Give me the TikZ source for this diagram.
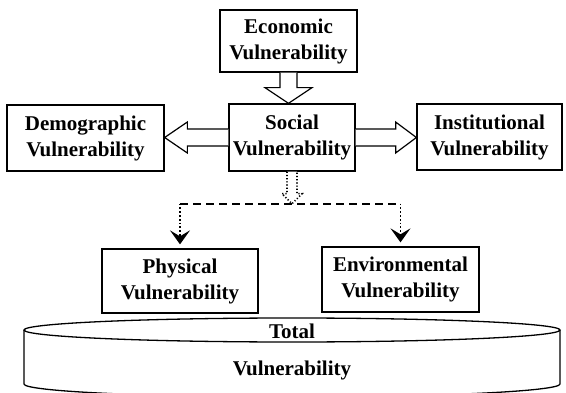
\documentclass[tikz,border=0pt]{standalone}
\usepackage{fontspec}
\setmainfont{Liberation Serif}
\usetikzlibrary{arrows.meta,calc}
\begin{document}
\begin{tikzpicture}[x=1pt, y=1pt, line width=1.3pt,
	box/.style={draw, align=center, inner sep=0pt, font=\bfseries\fontsize{21}{26}\selectfont},
	txt/.style={inner sep=0pt, font=\bfseries\fontsize{21}{26}\selectfont},
	hollow/.style={draw, fill=white, line width=1.2pt, line join=miter},
	link/.style={dotted, line width=1.8pt, -{Stealth[length=14pt, width=20pt, inset=6pt]}, shorten >=4pt}]
	\useasboundingbox (0,0) rectangle (566,392);
	\node[box, minimum width=137pt, minimum height=62pt] (econ) at (288.5,351) {Economic\\Vulnerability};
	\node[box, minimum width=126pt, minimum height=67pt] (social) at (292,254.5) {Social\\Vulnerability};
	\node[box, minimum width=157pt, minimum height=66pt] (demo) at (85.5,254) {Demographic\\Vulnerability};
	\node[box, minimum width=145pt, minimum height=66pt] (inst) at (489.5,255) {Institutional\\Vulnerability};
	\node[box, minimum width=156pt, minimum height=64pt] (phys) at (180,111) {Physical\\Vulnerability};
	\node[box, minimum width=157pt, minimum height=65pt] (env) at (400.5,112.5) {Environmental\\Vulnerability};
	% hollow arrows out of the social box
	\draw[hollow] ($(econ.south)+(-8.5,0)$) -- ++(0,-15) -- ++(-15,0) -- (econ.south |- social.north)
		-- ($(econ.south)+(23.5,-15)$) -- ++(-15,0) -- ($(econ.south)+(8.5,0)$);
	\draw[hollow] ($(social.west)+(0,8.5)$) -- ++(-41,0) -- ++(0,7) -- (demo.east |- social.west)
		-- ($(social.west)+(-41,-15.5)$) -- ++(0,7) -- ($(social.west)+(0,-8.5)$);
	\draw[hollow] ($(social.east)+(0,8.5)$) -- ++(40,0) -- ++(0,7) -- (inst.west |- social.east)
		-- ($(social.east)+(40,-15.5)$) -- ++(0,7) -- ($(social.east)+(0,-8.5)$);
	\coordinate (fork) at ($(social.south)+(0,-32)$);
	\draw[hollow, dotted, line width=1.6pt] ($(social.south)+(-5,0)$) -- ++(0,-22) -- ++(-5,0) -- (fork)
		-- ($(social.south)+(10,-22)$) -- ++(-5,0) -- ($(social.south)+(5,0)$);
	\draw[line width=2.2pt, dash pattern=on 8pt off 5pt] (phys.north |- fork) -- (env.north |- fork);
	\draw[link] (phys.north |- fork) -- (phys.north);
	\draw[link] (env.north |- fork) -- (env.north);
	% total vulnerability disc
	\draw (24,62) -- (24,8) arc[start angle=180, end angle=360, x radius=268, y radius=13] -- (560,62);
	\draw (292,62) ellipse [x radius=268, y radius=12];
	\node[txt] (total) at (292,61) {Total};
	\node[txt] (vuln) at (292,22) {Vulnerability};
\end{tikzpicture}
\end{document}
